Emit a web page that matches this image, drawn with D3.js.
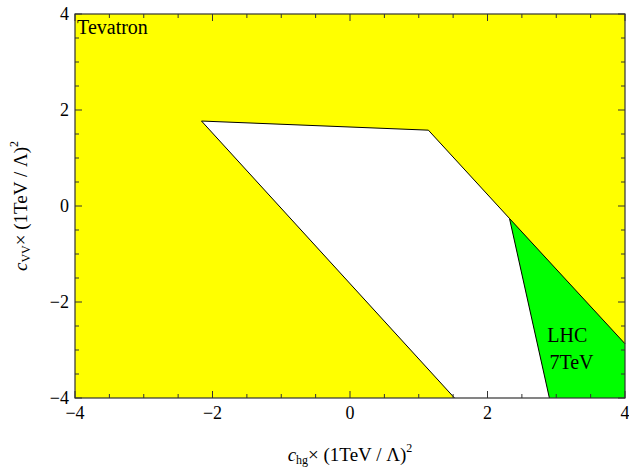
<!DOCTYPE html>
<html><head><meta charset="utf-8">
<script src="https://cdn.jsdelivr.net/npm/d3@7"></script>
<style>body{margin:0;background:#fff;} svg{display:block;} text{font-family:"Liberation Serif","Times New Roman",serif;}</style>
</head><body><div id="chart"></div>
<script>
const xDomain = [-4, 4];
const yDomain = [-4, 4];
const majorTicks = [-4, -2, 0, 2, 4];
const minorTicks = d3.range(-4, 4.01, 0.5);
// allowed region (white)
const whiteRegion = [[-2.16, 1.77], [1.14, 1.58], [2.32, -0.26], [2.9, -4], [1.52, -4]];
// LHC 7TeV allowed region (green)
const greenRegion = [[2.32, -0.26], [4, -2.87], [4, -4], [2.9, -4]];
// boundary lines
const boundaryUpper = [[-2.16, 1.77], [1.14, 1.58], [2.32, -0.26], [4, -2.87]];
const boundaryLeft = [[-2.16, 1.77], [1.52, -4]];
const boundaryLHC = [[2.32, -0.26], [2.9, -4]];
const labels = [{text: "Tevatron", x: -3.97, y: 3.58}, {text: "LHC", x: 2.87, y: -2.83}, {text: "7TeV", x: 2.9, y: -3.4}];

const W = 629, H = 467;
const m = {l: 75, r: 4, t: 14, b: 69};
const svg = d3.select("#chart").append("svg").attr("width", W).attr("height", H);
const x = d3.scaleLinear().domain(xDomain).range([m.l, W - m.r]);
const y = d3.scaleLinear().domain(yDomain).range([H - m.b, m.t]);

svg.append("rect").attr("x", x(-4)).attr("y", y(4)).attr("width", x(4) - x(-4)).attr("height", y(-4) - y(4)).attr("fill", "#ffff00");
const line = d3.line().x(d => x(d[0])).y(d => y(d[1]));
svg.append("path").attr("d", line(whiteRegion) + "Z").attr("fill", "#ffffff");
svg.append("path").attr("d", line(greenRegion) + "Z").attr("fill", "#00ff00");
[boundaryUpper, boundaryLeft, boundaryLHC].forEach(b =>
  svg.append("path").attr("d", line(b)).attr("fill", "none").attr("stroke", "#000").attr("stroke-width", 1));

labels.forEach(l => svg.append("text").attr("x", x(l.x)).attr("y", y(l.y)).attr("font-size", 20).text(l.text));

// frame
svg.append("rect").attr("x", x(-4)).attr("y", y(4)).attr("width", x(4) - x(-4)).attr("height", y(-4) - y(4))
  .attr("fill", "none").attr("stroke", "#333").attr("stroke-width", 1.2);

const fmt = d => d < 0 ? "\u2212" + Math.abs(d) : String(d);
const g = svg.append("g").attr("stroke", "#333").attr("stroke-width", 1);
minorTicks.forEach(t => {
  const isMajor = majorTicks.includes(t);
  const len = isMajor ? 7 : 4;
  g.append("line").attr("x1", x(t)).attr("x2", x(t)).attr("y1", y(-4)).attr("y2", y(-4) - len);
  g.append("line").attr("x1", x(t)).attr("x2", x(t)).attr("y1", y(4)).attr("y2", y(4) + len);
  g.append("line").attr("y1", y(t)).attr("y2", y(t)).attr("x1", x(-4)).attr("x2", x(-4) + len);
  g.append("line").attr("y1", y(t)).attr("y2", y(t)).attr("x1", x(4)).attr("x2", x(4) - len);
});
majorTicks.forEach(t => {
  svg.append("text").attr("x", x(t)).attr("y", y(-4) + 21).attr("text-anchor", "middle").attr("font-size", 18).text(fmt(t));
  svg.append("text").attr("x", x(-4) - 6).attr("y", y(t) + 6).attr("text-anchor", "end").attr("font-size", 18).text(fmt(t));
});

// axis labels
function axisLabel(sel, sub) {
  sel.append("tspan").attr("font-style", "italic").text("c");
  sel.append("tspan").attr("font-size", 12).attr("dy", 3).text(sub);
  sel.append("tspan").attr("dy", -3).text("\u00d7 (1TeV / \u039b)");
  sel.append("tspan").attr("font-size", 12).attr("dy", -9).text("2");
}
const xl = svg.append("text").attr("x", x(0)).attr("y", 461).attr("text-anchor", "middle").attr("font-size", 19);
axisLabel(xl, "hg");
const yl = svg.append("text").attr("transform", `translate(27,${y(0)}) rotate(-90)`).attr("text-anchor", "middle").attr("font-size", 19);
axisLabel(yl, "VV");
</script></body></html>
